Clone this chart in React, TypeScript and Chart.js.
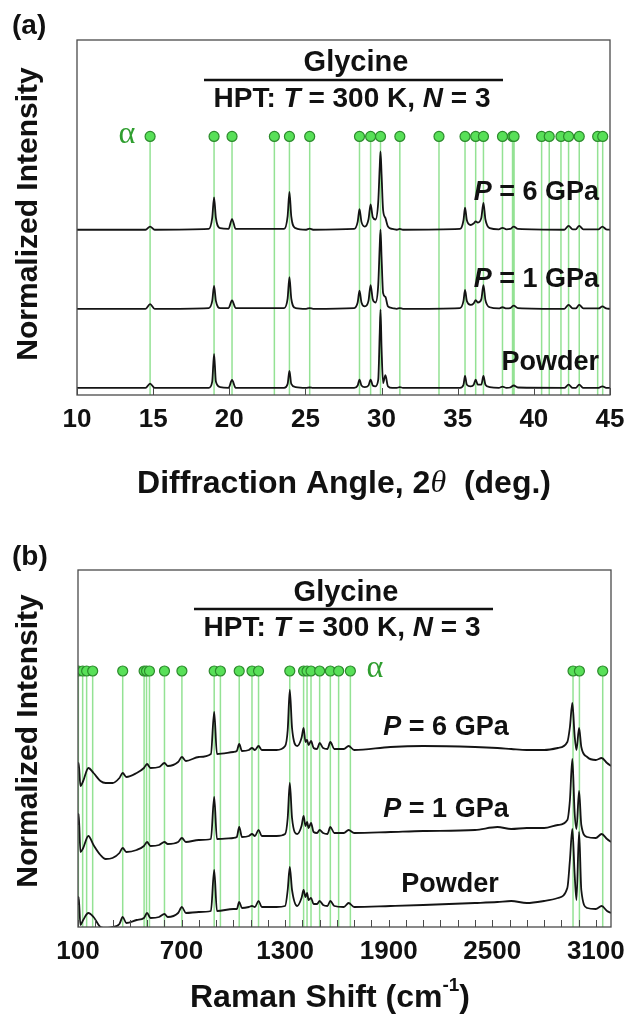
import { useEffect, useRef } from 'react';
import { Chart, registerables } from 'chart.js';
Chart.register(...registerables);

// ---------------- Panel (a): XRD ----------------
const xrdAngle = [10, 14.5, 14.8, 15.1, 18.65, 18.88, 19.0, 19.12, 19.4, 19.95, 20.18, 20.42, 23.6, 23.83, 23.95, 24.07, 24.35, 25.05, 25.28, 25.5, 28.2, 28.43, 28.55, 28.68, 28.9, 29.14, 29.28, 29.42, 29.6, 29.78, 29.88, 29.93, 30.0, 30.1, 30.25, 30.42, 30.7, 31.0, 31.2, 31.4, 35.15, 35.38, 35.48, 35.6, 35.85, 36.05, 36.18, 36.32, 36.55, 36.69, 36.82, 37.1, 37.7, 37.94, 38.2, 38.45, 38.68, 38.95, 42.0, 42.28, 42.55, 42.75, 42.98, 43.25, 44.25, 44.5, 44.75, 45];
const xrdP6 = [0, 0, 0.04, 0, 0.01, 0.15, 0.41, 0.15, 0.02, 0.01, 0.135, 0.01, 0.01, 0.17, 0.48, 0.17, 0.02, 0, 0.015, 0, 0.01, 0.1, 0.26, 0.1, 0.04, 0.13, 0.32, 0.16, 0.13, 0.35, 0.8, 0.99, 0.7, 0.25, 0.15, 0.04, 0.01, 0, 0.01, 0, 0.01, 0.12, 0.28, 0.12, 0.06, 0.08, 0.105, 0.09, 0.15, 0.34, 0.13, 0.02, 0.005, 0.025, 0.005, 0.01, 0.04, 0.01, 0, 0.05, 0.005, 0.005, 0.05, 0.005, 0.005, 0.04, 0.005, 0];
const xrdP1 = [0, 0, 0.06, 0, 0.01, 0.1, 0.29, 0.1, 0.01, 0.01, 0.105, 0.01, 0.01, 0.13, 0.4, 0.13, 0.01, 0, 0.01, 0, 0.01, 0.08, 0.23, 0.08, 0.03, 0.1, 0.3, 0.12, 0.08, 0.3, 0.8, 1.0, 0.65, 0.2, 0.15, 0.03, 0.01, 0, 0.01, 0, 0.01, 0.1, 0.24, 0.1, 0.05, 0.07, 0.11, 0.08, 0.12, 0.3, 0.11, 0.02, 0.005, 0.02, 0.005, 0.01, 0.04, 0.01, 0, 0.05, 0.005, 0.005, 0.05, 0.005, 0.005, 0.03, 0.005, 0];
const xrdPowder = [0, 0, 0.055, 0, 0, 0.08, 0.43, 0.08, 0.01, 0, 0.1, 0, 0, 0.05, 0.215, 0.05, 0.01, 0, 0.005, 0, 0, 0.03, 0.105, 0.03, 0.01, 0.03, 0.105, 0.03, 0.02, 0.1, 0.7, 0.99, 0.5, 0.06, 0.16, 0.02, 0, 0, 0.01, 0, 0, 0.04, 0.15, 0.04, 0.02, 0.04, 0.105, 0.04, 0.04, 0.15, 0.04, 0.01, 0, 0.015, 0, 0.005, 0.03, 0.005, 0, 0.04, 0, 0, 0.04, 0, 0, 0.02, 0, 0];
const xrdOffsets = [2, 1, 0]; // P=6, P=1, Powder (stacking)
const xrdAlphaPeaks = [14.8, 19.0, 20.18, 22.96, 23.95, 25.28, 28.55, 29.28, 29.93, 31.2, 33.77, 35.48, 36.18, 36.69, 37.94, 38.6, 38.7, 40.51, 41.01, 41.78, 42.28, 42.98, 44.19, 44.52];
const xrdMarkerLevel = 3.18;
const xrdTicks = [10, 15, 20, 25, 30, 35, 40, 45];

// ---------------- Panel (b): Raman ----------------
const ramanShift = [100, 104, 114, 130, 160, 190, 230, 260, 300, 340, 359, 380, 440, 482, 500, 520, 570, 601, 620, 680, 702, 725, 800, 870, 889, 905, 1000, 1020, 1034, 1050, 1090, 1108, 1125, 1146, 1165, 1250, 1300, 1315, 1327, 1340, 1370, 1395, 1407, 1418, 1427, 1436, 1450, 1465, 1485, 1500, 1520, 1545, 1562, 1585, 1640, 1668, 1700, 1910, 2100, 2400, 2530, 2610, 2700, 2800, 2880, 2935, 2950, 2964, 2977, 2988, 3003, 3016, 3050, 3100, 3134, 3165, 3188];
// offset-stacked intensities (a.u.)
const ramanP6 = [159, 164, 141, 146, 159, 154, 146, 144, 144, 149, 154, 150, 154, 159, 163, 159, 160, 164, 161, 165, 170, 166, 170, 173, 215, 173, 175, 176, 183, 176, 177, 179, 177, 181, 177, 177, 181, 197, 237, 199, 181, 189, 199, 185, 187, 182, 186, 179, 178, 184, 179, 178, 185, 178, 178, 181, 177, 180, 181, 180, 179, 178, 177, 177, 179, 185, 200, 224, 192, 177, 199, 180, 170, 167, 169, 164, 161];
const ramanP1 = [102, 113, 75, 79, 91, 82, 72, 68, 69, 74, 79, 75, 77, 81, 85, 81, 82, 85, 83, 85, 89, 85, 87, 88, 130, 88, 89, 90, 100, 90, 91, 93, 91, 97, 91, 91, 93, 109, 144, 109, 93, 101, 111, 101, 105, 99, 104, 95, 94, 97, 94, 93, 100, 94, 94, 97, 94, 95, 96, 97, 100, 98, 99, 99, 102, 107, 127, 168, 115, 98, 136, 102, 90, 89, 93, 88, 85];
const ramanPowder = [22, 30, 2, 7, 14, 10, 0, -1, 0, 3, 10, 4, 7, 9, 14, 9, 10, 13, 10, 14, 20, 14, 15, 16, 57, 16, 18, 18, 25, 19, 20, 21, 20, 26, 20, 20, 21, 37, 60, 37, 21, 29, 37, 30, 34, 27, 29, 23, 23, 26, 22, 21, 26, 21, 20, 24, 20, 21, 22, 24, 25, 26, 24, 26, 29, 39, 67, 98, 54, 27, 95, 37, 19, 18, 21, 16, 14];
const ramanAlphaPeaks = [102, 127, 150, 185, 359, 483, 497, 514, 601, 702, 889, 925, 1034, 1108, 1146, 1327, 1407, 1427, 1450, 1500, 1562, 1610, 1678, 2968, 3005, 3140];
const ramanMarkerLevel = 256;
const ramanTickLabels = [100, 700, 1300, 1900, 2500, 3100];

// ---------------- helpers ----------------
const SANS = '"Liberation Sans", Arial, Helvetica, sans-serif';
const SERIF = '"Liberation Serif", "Times New Roman", serif';
const TRACE = '#141414';
const VLINE = '#94e294';
const DOT_FILL = '#58e058';
const DOT_EDGE = '#2c8a2c';
const ALPHA_C = '#2f9e2f';

type Seg = { t: string; it?: boolean; serif?: boolean; size?: number; dy?: number; weight?: string };

function drawRich(ctx: CanvasRenderingContext2D, segs: Seg[], x: number, y: number, align: string, size: number, color = '#111') {
  const f = (s: Seg) => `${s.it ? 'italic ' : ''}${s.weight ?? 'bold'} ${s.size ?? size}px ${s.serif ? SERIF : SANS}`;
  let total = 0;
  for (const s of segs) { ctx.font = f(s); total += ctx.measureText(s.t).width; }
  let cx = align === 'left' ? x : align === 'center' ? x - total / 2 : x - total;
  ctx.fillStyle = color;
  ctx.textBaseline = 'middle';
  ctx.textAlign = 'left';
  for (const s of segs) {
    ctx.font = f(s);
    ctx.fillText(s.t, cx, y + (s.dy ?? 0));
    cx += ctx.measureText(s.t).width;
  }
}

function frameAndTicks(chart: any, ctx: CanvasRenderingContext2D, labels: number[], labelOffset: number) {
  const { left, right, top, bottom } = chart.chartArea;
  const xs = chart.scales.x;
  ctx.strokeStyle = '#4a4a4a';
  ctx.lineWidth = 1;
  ctx.beginPath();
  for (const t of xs.ticks) {
    const px = Math.round(xs.getPixelForValue(t.value)) + 0.5;
    ctx.moveTo(px, bottom);
    ctx.lineTo(px, bottom - 7);
  }
  ctx.stroke();
  ctx.lineWidth = 1.3;
  ctx.strokeRect(left, top, right - left, bottom - top);
  for (const t of xs.ticks) {
    const v = Number(t.value);
    const lab = labels.find((l) => Math.abs(l - v) < 1e-6);
    if (lab === undefined) continue;
    drawRich(ctx, [{ t: String(lab) }], xs.getPixelForValue(v), bottom + labelOffset, 'center', 26);
  }
}

function vlineData(peaks: number[], yMin: number, level: number) {
  const out: any[] = [];
  for (const p of peaks) { out.push({ x: p, y: yMin }, { x: p, y: level }, { x: p, y: null }); }
  return out;
}

function traceDs(xs: number[], ys: number[], offset: number) {
  return {
    data: xs.map((x, i) => ({ x, y: ys[i] + offset })),
    borderColor: TRACE, borderWidth: 1.8, pointRadius: 0,
    cubicInterpolationMode: 'monotone', order: 2,
  };
}

function markerSets(peaks: number[], yMin: number, level: number) {
  return [
    {
      data: peaks.map((x) => ({ x, y: level })),
      showLine: false, pointRadius: 5, pointBackgroundColor: DOT_FILL,
      pointBorderColor: DOT_EDGE, pointBorderWidth: 1.2, order: 1,
    },
    {
      data: vlineData(peaks, yMin, level), borderColor: VLINE, borderWidth: 1.5,
      pointRadius: 0, spanGaps: false, order: 3,
    },
  ];
}

function axisX(min: number, max: number, step: number) {
  return {
    type: 'linear', min, max,
    ticks: { display: false, stepSize: step, maxTicksLimit: 200, includeBounds: false },
    grid: { display: false, drawTicks: false },
    border: { display: false },
    afterFit: (s: any) => { s.height = 40; },
  };
}

function configA(): any {
  const yMin = -0.09;
  return {
    type: 'line',
    data: {
      datasets: [
        traceDs(xrdAngle, xrdP6, xrdOffsets[0]),
        traceDs(xrdAngle, xrdP1, xrdOffsets[1]),
        traceDs(xrdAngle, xrdPowder, xrdOffsets[2]),
        ...markerSets(xrdAlphaPeaks, yMin, xrdMarkerLevel),
      ],
    },
    options: {
      animation: false, responsive: false, devicePixelRatio: 1,
      layout: { padding: { left: 77, right: 17, top: 40, bottom: 73 } },
      plugins: { legend: { display: false }, tooltip: { enabled: false } },
      scales: {
        x: axisX(10, 45, 5),
        y: { display: false, min: yMin, max: 4.4 },
      },
    },
    plugins: [{
      id: 'decorA',
      afterDatasetsDraw(chart: any) {
        const ctx = chart.ctx as CanvasRenderingContext2D;
        ctx.save();
        frameAndTicks(chart, ctx, xrdTicks, 25);
        drawRich(ctx, [{ t: '(a)' }], 12, 26, 'left', 28);
        ctx.save(); ctx.translate(29, 214); ctx.rotate(-Math.PI / 2);
        drawRich(ctx, [{ t: 'Normalized Intensity' }], 0, 0, 'center', 30);
        ctx.restore();
        drawRich(ctx, [{ t: 'Glycine' }], 356, 63, 'center', 29);
        ctx.strokeStyle = '#111'; ctx.lineWidth = 2.5;
        ctx.beginPath(); ctx.moveTo(204, 80); ctx.lineTo(503, 80); ctx.stroke();
        drawRich(ctx, [{ t: 'HPT: ' }, { t: 'T', it: true }, { t: ' = 300 K, ' }, { t: 'N', it: true }, { t: ' = 3' }], 352, 99, 'center', 28);
        drawRich(ctx, [{ t: 'α', serif: true, weight: 'normal' }], 127, 135, 'center', 32, ALPHA_C);
        drawRich(ctx, [{ t: 'P', it: true }, { t: ' = 6 GPa' }], 599, 193, 'right', 27);
        drawRich(ctx, [{ t: 'P', it: true }, { t: ' = 1 GPa' }], 599, 280, 'right', 27);
        drawRich(ctx, [{ t: 'Powder' }], 599, 363, 'right', 27);
        drawRich(ctx, [{ t: 'Diffraction Angle, 2' }, { t: 'θ', it: true, serif: true, weight: 'normal' }, { t: '  (deg.)' }], 344, 484, 'center', 32);
        ctx.restore();
      },
    }],
  };
}

function configB(): any {
  const yMin = -5;
  return {
    type: 'line',
    data: {
      datasets: [
        traceDs(ramanShift, ramanP6, 0),
        traceDs(ramanShift, ramanP1, 0),
        traceDs(ramanShift, ramanPowder, 0),
        ...markerSets(ramanAlphaPeaks, yMin, ramanMarkerLevel),
      ],
    },
    options: {
      animation: false, responsive: false, devicePixelRatio: 1,
      layout: { padding: { left: 78, right: 16, top: 62, bottom: 49 } },
      plugins: { legend: { display: false }, tooltip: { enabled: false } },
      scales: {
        x: axisX(100, 3188, 100),
        y: { display: false, min: 0, max: 357 },
      },
    },
    plugins: [{
      id: 'decorB',
      afterDatasetsDraw(chart: any) {
        const ctx = chart.ctx as CanvasRenderingContext2D;
        ctx.save();
        frameAndTicks(chart, ctx, ramanTickLabels, 25);
        drawRich(ctx, [{ t: '(b)' }], 12, 49, 'left', 28);
        ctx.save(); ctx.translate(29, 233); ctx.rotate(-Math.PI / 2);
        drawRich(ctx, [{ t: 'Normalized Intensity' }], 0, 0, 'center', 30);
        ctx.restore();
        drawRich(ctx, [{ t: 'Glycine' }], 346, 85, 'center', 29);
        ctx.strokeStyle = '#111'; ctx.lineWidth = 2.5;
        ctx.beginPath(); ctx.moveTo(194, 101); ctx.lineTo(493, 101); ctx.stroke();
        drawRich(ctx, [{ t: 'HPT: ' }, { t: 'T', it: true }, { t: ' = 300 K, ' }, { t: 'N', it: true }, { t: ' = 3' }], 342, 120, 'center', 28);
        drawRich(ctx, [{ t: 'α', serif: true, weight: 'normal' }], 375, 161, 'center', 32, ALPHA_C);
        drawRich(ctx, [{ t: 'P', it: true }, { t: ' = 6 GPa' }], 446, 220, 'center', 27);
        drawRich(ctx, [{ t: 'P', it: true }, { t: ' = 1 GPa' }], 446, 302, 'center', 27);
        drawRich(ctx, [{ t: 'Powder' }], 450, 377, 'center', 27);
        drawRich(ctx, [{ t: 'Raman Shift (cm' }, { t: '-1', size: 19, dy: -12 }, { t: ')' }], 330, 490, 'center', 32);
        ctx.restore();
      },
    }],
  };
}

export default function App() {
  const refA = useRef<HTMLCanvasElement>(null);
  const refB = useRef<HTMLCanvasElement>(null);
  useEffect(() => {
    const a = new Chart(refA.current as HTMLCanvasElement, configA());
    const b = new Chart(refB.current as HTMLCanvasElement, configB());
    return () => { a.destroy(); b.destroy(); };
  }, []);
  return (
    <div style={{ position: 'absolute', left: 0, top: 0, width: 627, height: 1016, background: '#fff' }}>
      <canvas ref={refA} width={627} height={508} style={{ position: 'absolute', left: 0, top: 0, width: 627, height: 508 }} />
      <canvas ref={refB} width={627} height={508} style={{ position: 'absolute', left: 0, top: 508, width: 627, height: 508 }} />
    </div>
  );
}
